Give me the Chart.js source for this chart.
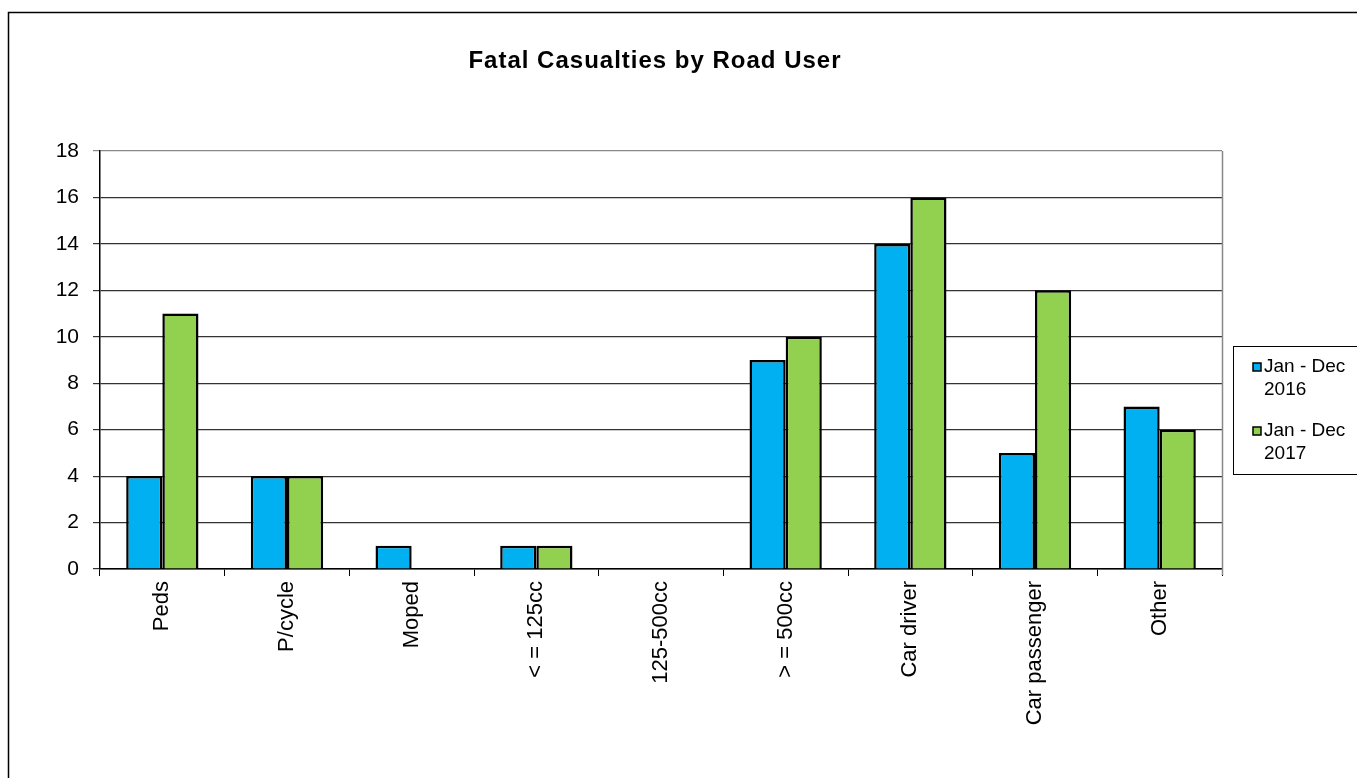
<!DOCTYPE html>
<html>
<head>
<meta charset="utf-8">
<script src="https://cdn.jsdelivr.net/npm/chart.js@4/dist/chart.umd.min.js"></script>
<style>
  html, body { margin: 0; padding: 0; background: #fff; }
  #wrap { width: 1357px; height: 778px; }
</style>
</head>
<body>
<div id="wrap"><canvas id="chart" width="1357" height="778"></canvas></div>
<script>
/* --- data --- */
const CATEGORIES = ['Peds', 'P/cycle', 'Moped', '< = 125cc', '125-500cc', '> = 500cc', 'Car driver', 'Car passenger', 'Other'];
const SERIES_2016 = [4, 4, 1, 1, 0, 9, 14, 5, 7];
const SERIES_2017 = [11, 4, 0, 1, 0, 10, 16, 12, 6];
const SERIES_LABELS = [['Jan - Dec', '2016'], ['Jan - Dec', '2017']];
const Y_TICKS = [0, 2, 4, 6, 8, 10, 12, 14, 16, 18];

const FONT = 'Arial, "Liberation Sans", sans-serif';
const BLUE = '#00B0F0';
const GREEN = '#92D050';

/* frame, title, right border and legend box */
const decorations = {
  id: 'decorations',
  afterDraw(chart) {
    const { ctx, chartArea: a } = chart;
    ctx.save();

    // outer frame
    ctx.strokeStyle = '#000';
    ctx.lineWidth = 1.5;
    ctx.beginPath();
    ctx.moveTo(8.5, 778);
    ctx.lineTo(8.5, 12.5);
    ctx.lineTo(1357, 12.5);
    ctx.stroke();

    // plot area right border
    ctx.strokeStyle = '#888';
    ctx.lineWidth = 1.5;
    ctx.beginPath();
    ctx.moveTo(a.right + 0.5, a.top);
    ctx.lineTo(a.right + 0.5, a.bottom + 6);
    ctx.stroke();

    // title
    ctx.fillStyle = '#000';
    ctx.font = 'bold 24px ' + FONT;
    ctx.letterSpacing = '1px';
    ctx.textAlign = 'center';
    ctx.textBaseline = 'middle';
    ctx.fillText('Fatal Casualties by Road User', 655, 61);
    ctx.letterSpacing = '0px';

    // legend
    ctx.strokeStyle = '#000';
    ctx.lineWidth = 1;
    ctx.strokeRect(1233.5, 346.5, 140, 128);
    ctx.font = '19px ' + FONT;
    ctx.textAlign = 'left';
    ctx.textBaseline = 'middle';
    chart.data.datasets.forEach((ds, i) => {
      const y = 367 + i * 64;
      ctx.fillStyle = ds.backgroundColor;
      ctx.fillRect(1253, y - 4, 8, 8);
      ctx.strokeStyle = '#000';
      ctx.lineWidth = 1.5;
      ctx.strokeRect(1253, y - 4, 8, 8);
      ctx.fillStyle = '#000';
      ctx.fillText(SERIES_LABELS[i][0], 1264, y);
      ctx.fillText(SERIES_LABELS[i][1], 1264, y + 23);
    });

    ctx.restore();
  }
};

new Chart(document.getElementById('chart'), {
  type: 'bar',
  data: {
    labels: CATEGORIES,
    datasets: [
      { label: 'Jan - Dec 2016', data: SERIES_2016, backgroundColor: BLUE },
      { label: 'Jan - Dec 2017', data: SERIES_2017, backgroundColor: GREEN },
    ],
  },
  options: {
    responsive: false,
    animation: false,
    layout: { padding: { left: 8, top: 151, right: 135, bottom: 0 } },
    datasets: {
      bar: {
        borderColor: '#000',
        borderWidth: 2.5,
        borderSkipped: 'bottom',
        categoryPercentage: 0.58,
        barPercentage: 1,
      },
    },
    plugins: {
      legend: { display: false },
      title: { display: false },
      tooltip: { enabled: false },
    },
    scales: {
      x: {
        offset: true,
        grid: { offset: true, drawOnChartArea: false, drawTicks: true, tickLength: 7, color: '#000' },
        border: { color: '#000', width: 1.5 },
        ticks: {
          color: '#000',
          font: { family: FONT, size: 22 },
          maxRotation: 90,
          minRotation: 90,
          padding: 5,
          autoSkip: false,
        },
        afterFit(scale) { scale.height = 209; },
      },
      y: {
        min: 0,
        max: 18,
        afterBuildTicks(scale) { scale.ticks = Y_TICKS.map(v => ({ value: v })); },
        grid: {
          color: ctx => (ctx.tick && ctx.tick.value === 18 ? '#888' : '#333'),
          lineWidth: 1.2,
          tickLength: 7,
        },
        border: { color: '#000', width: 1.5 },
        ticks: {
          color: '#000',
          font: { family: FONT, size: 21 },
          padding: 14,
        },
        afterFit(scale) { scale.width = 92; },
      },
    },
  },
  plugins: [decorations],
});
</script>
</body>
</html>
